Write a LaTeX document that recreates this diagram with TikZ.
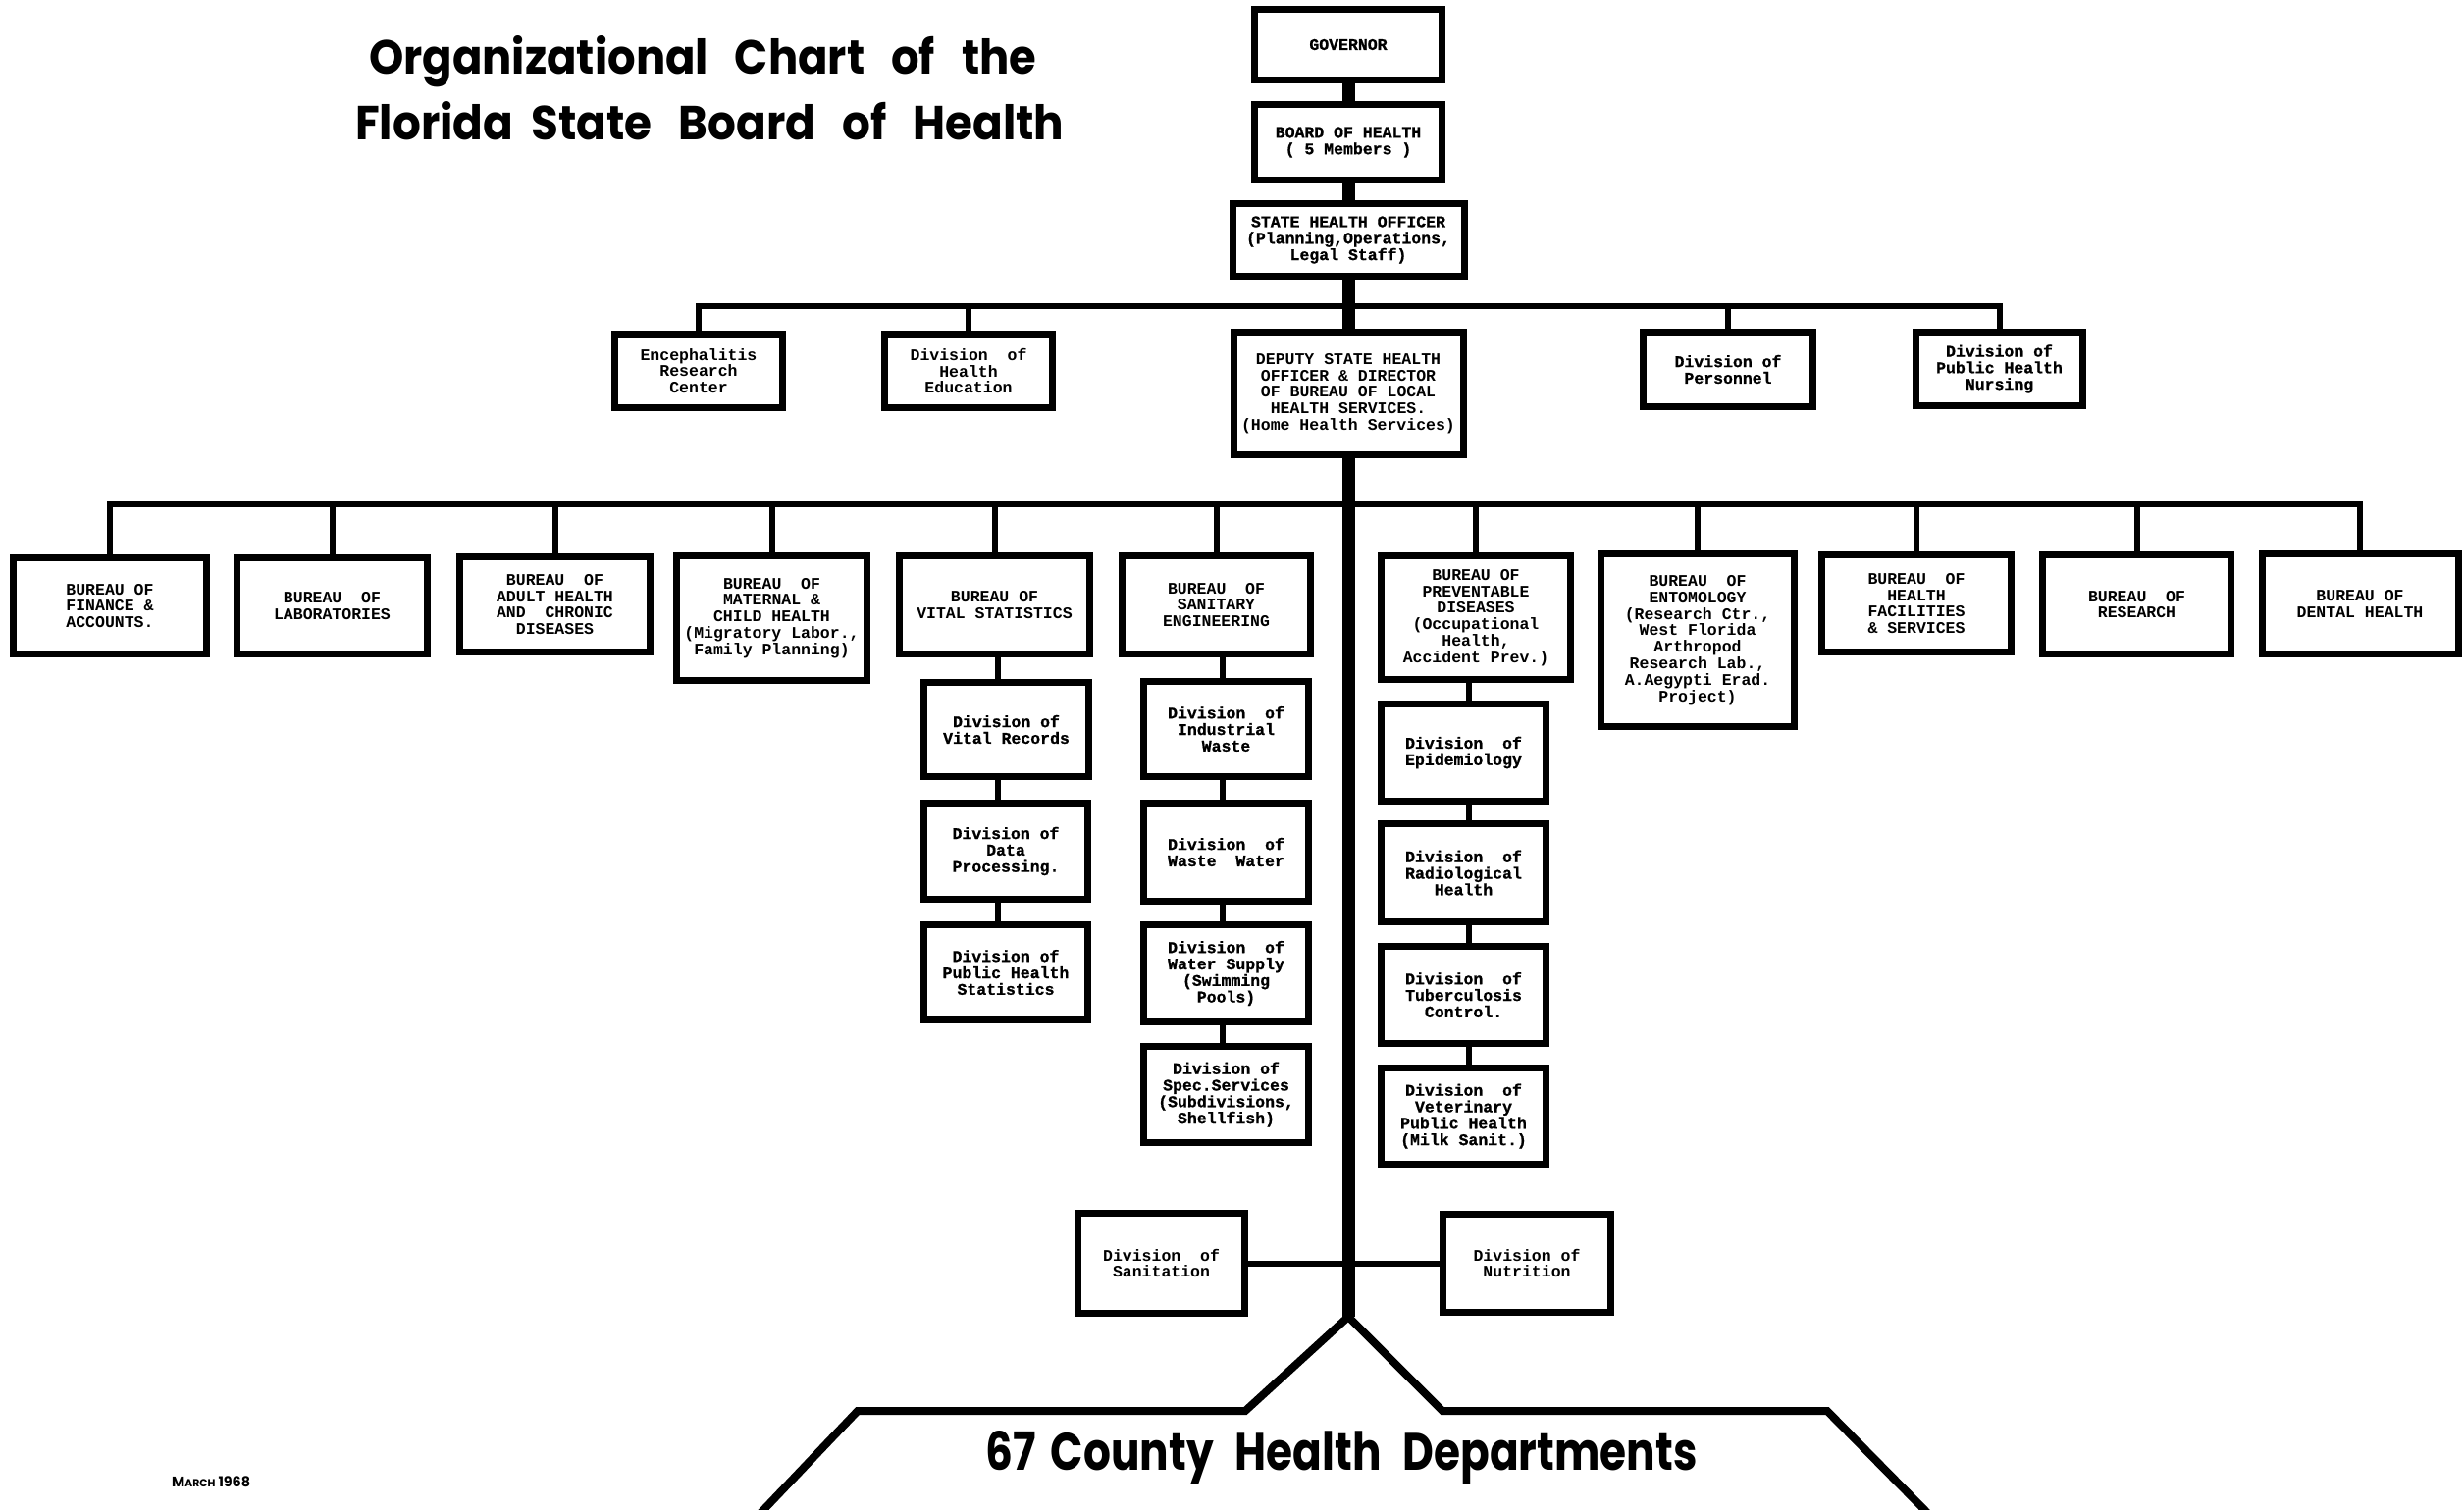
\documentclass[tikz,border=0pt]{standalone}
\usepackage{fontspec}
\usepackage{graphicx}
\newfontfamily\boxfont{Liberation Mono}
\newfontfamily\heavyfont{Liberation Mono}[BoldFeatures={FakeBold=1}]
\newfontfamily\titlefont{Poppins}
\begin{document}
\begin{tikzpicture}[x=1pt,y=-1pt,
  box/.style={draw, line width=7pt, fill=white, inner sep=0pt, align=center,
    font=\boxfont\bfseries\fontsize{16.5}{16.8}\selectfont},
  heavy/.style={font=\heavyfont\bfseries\fontsize{16.5}{16.8}\selectfont},
  sz/.style 2 args={minimum width=#1pt, minimum height=#2pt},
  spine/.style={line width=13pt},
  bar/.style={line width=6pt, line cap=rect},
  link/.style={line width=6pt},
  county/.style={line width=8pt, line join=miter},
  title/.style={anchor=base west, inner sep=0pt}]
\clip (0,0) rectangle (2511,1539);

% titles
\node[title] (t1) at (376,75) {\resizebox{680pt}{39pt}{\titlefont\bfseries Organizational\hspace{0.6em}Chart\hspace{0.6em}of\hspace{0.6em}the}};
\node[title] (t2) at (362,142) {\resizebox{722pt}{39pt}{\titlefont\bfseries Florida\hspace{0.4em}State\hspace{0.6em}Board\hspace{0.6em}of\hspace{0.6em}Health}};
\node[title] (cty) at (1004,1498) {\resizebox{725pt}{40pt}{\titlefont\bfseries 67\hspace{0.35em}County\hspace{0.5em}Health\hspace{0.5em}Departments}};
\node[title] (date) at (175,1515) {\resizebox{80pt}{!}{\titlefont\bfseries M\fontsize{7.5}{8}\selectfont ARCH\fontsize{10}{10}\selectfont\ 1968}};

% top chain
\node[box,heavy,sz={191}{72}] (gov) at (1374,45.5) {GOVERNOR};
\node[box,heavy,sz={191}{77}] (board) at (1374,145) {BOARD OF HEALTH\\( 5 Members )};
\node[box,heavy,sz={236}{74}] (sho) at (1374,244.5) {STATE HEALTH OFFICER\\(Planning,Operations,\\Legal Staff)};

% row 2
\node[box,sz={171}{75}] (enc) at (712,378) {Encephalitis\\Research\\Center};
\node[box,sz={171}{75}] (he) at (987,378) {Division\ \ of\\Health\\Education};
\node[box,sz={234}{125}] (dep) at (1374,401) {DEPUTY STATE HEALTH\\OFFICER \& DIRECTOR\\OF BUREAU OF LOCAL\\HEALTH SERVICES.\\(Home Health Services)};
\node[box,heavy,sz={173}{76}] (pers) at (1761,376.5) {Division of\\Personnel};
\node[box,heavy,sz={170}{75}] (phn) at (2037.5,376) {Division of\\Public Health\\Nursing};

% row 3
\node[box,sz={197}{98}] (fin) at (112,617.5) {BUREAU OF\\FINANCE \&\\ACCOUNTS.};
\node[box,sz={194}{98}] (lab) at (338.5,617.5) {BUREAU\ \ OF\\LABORATORIES};
\node[box,sz={194}{97}] (adult) at (565.5,616) {BUREAU\ \ OF\\ADULT HEALTH\\AND\ \ CHRONIC\\DISEASES};
\node[box,sz={194}{127}] (mat) at (786.5,630) {BUREAU\ \ OF\\MATERNAL \&\\CHILD HEALTH\\(Migratory Labor.,\\Family Planning)};
\node[box,sz={194}{100}] (vs) at (1013.5,616.5) {BUREAU OF\\VITAL STATISTICS};
\node[box,sz={192}{100}] (san) at (1239.5,616.5) {BUREAU\ \ OF\\SANITARY\\ENGINEERING};
\node[box,sz={193}{126}] (prev) at (1504,629.5) {BUREAU OF\\PREVENTABLE\\DISEASES\\(Occupational\\Health,\\Accident Prev.)};
\node[box,sz={197}{176}] (ento) at (1730,652.5) {BUREAU\ \ OF\\ENTOMOLOGY\\(Research Ctr.,\\West Florida\\Arthropod\\Research Lab.,\\A.Aegypti Erad.\\Project)};
\node[box,sz={193}{99}] (fac) at (1953,615) {BUREAU\ \ OF\\HEALTH\\FACILITIES\\\& SERVICES};
\node[box,sz={192}{101}] (res) at (2177.5,616) {BUREAU\ \ OF\\RESEARCH};
\node[box,sz={200}{102}] (dent) at (2405,615.5) {BUREAU OF\\DENTAL HEALTH};

% vital statistics column
\node[box,heavy,sz={168}{96}] (vr) at (1025.5,743.5) {Division of\\Vital Records};
\node[box,heavy,sz={167}{98}] (dp) at (1025,867.5) {Division of\\Data\\Processing.};
\node[box,heavy,sz={167}{97}] (phs) at (1025,991) {Division of\\Public Health\\Statistics};

% sanitary engineering column
\node[box,heavy,sz={168}{97}] (iw) at (1249.5,743) {Division\ \ of\\Industrial\\Waste};
\node[box,heavy,sz={168}{100}] (ww) at (1249.5,868.5) {Division\ \ of\\Waste\ \ Water};
\node[box,heavy,sz={168}{99}] (ws) at (1249.5,992) {Division\ \ of\\Water Supply\\(Swimming\\Pools)};
\node[box,heavy,sz={168}{98}] (ss) at (1249.5,1115.5) {Division of\\Spec.Services\\(Subdivisions,\\Shellfish)};

% preventable diseases column
\node[box,heavy,sz={168}{99}] (epi) at (1491.5,767) {Division\ \ of\\Epidemiology};
\node[box,heavy,sz={168}{100}] (rad) at (1491.5,889.5) {Division\ \ of\\Radiological\\Health};
\node[box,heavy,sz={168}{99}] (tb) at (1491.5,1014) {Division\ \ of\\Tuberculosis\\Control.};
\node[box,heavy,sz={168}{98}] (vet) at (1491.5,1137.5) {Division\ \ of\\Veterinary\\Public Health\\(Milk Sanit.)};

% bottom divisions
\node[box,sz={170}{102}] (sanit) at (1183.5,1287.5) {Division\ \ of\\Sanitation};
\node[box,sz={171}{100}] (nutr) at (1556,1287.5) {Division of\\Nutrition};

% helper coordinates
\coordinate (bar2) at (0,312);
\coordinate (bar3) at (0,514);
\coordinate (vscol) at (1017,0);
\coordinate (sancol) at (1246,0);
\coordinate (prevcol) at (1497,0);
\coordinate (apex) at (1374,1342);
\coordinate (lk) at (1269,1438);
\coordinate (rk) at (1470,1438);
\coordinate (lh) at (874,1438);
\coordinate (rh) at (1862,1438);
\coordinate (lend) at (758,1560);
\coordinate (rend) at (1982,1560);

% spine
\draw[spine] (gov.south) -- (board.north);
\draw[spine] (board.south) -- (sho.north);
\draw[spine] (sho.south) -- (dep.north);
\draw[spine] (dep.south) -- (apex);

% bars
\draw[bar] (enc.north |- bar2) -- (phn.north |- bar2);
\foreach \n in {enc,he,pers,phn} \draw[link] (\n.north) -- (\n.north |- bar2);
\draw[bar] (fin.north |- bar3) -- (dent.north |- bar3);
\foreach \n in {fin,lab,adult,mat,vs,san,prev,ento,fac,res,dent} \draw[link] (\n.north) -- (\n.north |- bar3);

% columns
\draw[link] (vs.south -| vscol) -- (vr.north -| vscol);
\draw[link] (vr.south -| vscol) -- (dp.north -| vscol);
\draw[link] (dp.south -| vscol) -- (phs.north -| vscol);
\draw[link] (san.south -| sancol) -- (iw.north -| sancol);
\draw[link] (iw.south -| sancol) -- (ww.north -| sancol);
\draw[link] (ww.south -| sancol) -- (ws.north -| sancol);
\draw[link] (ws.south -| sancol) -- (ss.north -| sancol);
\draw[link] (prev.south -| prevcol) -- (epi.north -| prevcol);
\draw[link] (epi.south -| prevcol) -- (rad.north -| prevcol);
\draw[link] (rad.south -| prevcol) -- (tb.north -| prevcol);
\draw[link] (tb.south -| prevcol) -- (vet.north -| prevcol);

% sanitation / nutrition
\draw[link] (sanit.east) -- (nutr.west);

% county departments frame
\draw[county] (lend) -- (lh) -- (lk) -- (apex) -- (rk) -- (rh) -- (rend);
\end{tikzpicture}
\end{document}
